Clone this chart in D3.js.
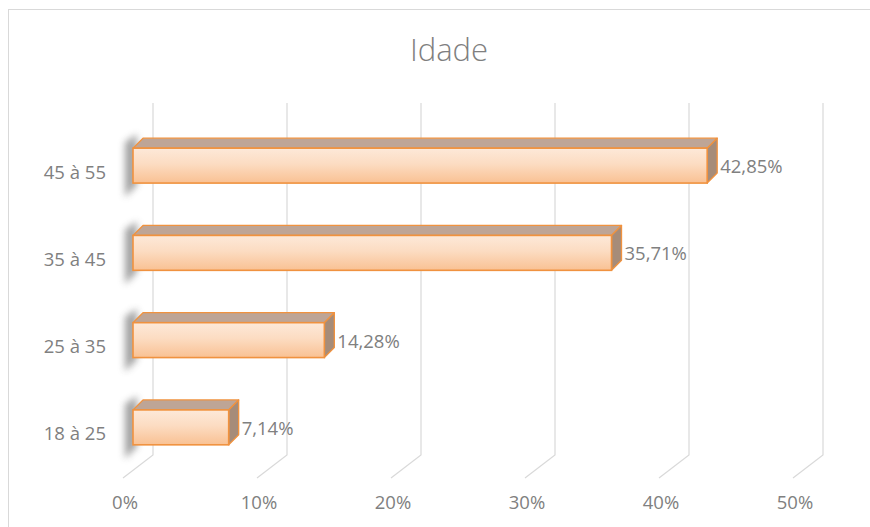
<!DOCTYPE html>
<html>
<head>
<meta charset="utf-8">
<script src="https://cdn.jsdelivr.net/npm/d3@7/dist/d3.min.js"></script>
<style>
html,body{margin:0;padding:0;background:#fff;}
svg{display:block;font-family:"Open Sans","Noto Sans",sans-serif;}
</style>
</head>
<body>
<svg id="chart" width="870" height="527"></svg>
<script>
const title = "Idade";
const categories = ["18 à 25", "25 à 35", "35 à 45", "45 à 55"];
const values = [7.14, 14.28, 35.71, 42.85];
const valueLabels = ["7,14%", "14,28%", "35,71%", "42,85%"];
const tickValues = [0, 10, 20, 30, 40, 50];
const tickLabels = ["0%", "10%", "20%", "30%", "40%", "50%"];

const svg = d3.select("#chart");

// chart area border
svg.append("rect").attr("x", 8.5).attr("y", 9.5).attr("width", 880).attr("height", 540)
  .attr("fill", "#fff").attr("stroke", "#d9d9d9").attr("stroke-width", 1);

const defs = svg.append("defs");
const grad = defs.append("linearGradient").attr("id", "barGrad")
  .attr("x1", 0).attr("y1", 0).attr("x2", 0).attr("y2", 1);
grad.append("stop").attr("offset", "0%").attr("stop-color", "#fde9d9");
grad.append("stop").attr("offset", "45%").attr("stop-color", "#fcdcc2");
grad.append("stop").attr("offset", "100%").attr("stop-color", "#f9c193");
const blur = defs.append("filter").attr("id", "shadowBlur")
  .attr("x", "-100%").attr("y", "-50%").attr("width", "300%").attr("height", "200%");
blur.append("feGaussianBlur").attr("stdDeviation", 3.5);

// scales
const x = d3.scaleLinear().domain([0, 50]).range([0, 670]);
const y = d3.scaleBand().domain(categories.slice().reverse())
  .range([122, 471]).paddingInner(0.6).paddingOuter(0.3);

const frontX0 = 133;   // bar front face origin
const wallX0 = 153;    // back wall origin
const floorX0 = 123;   // floor front edge origin
const wallTop = 103, wallBottom = 455, floorFront = 478;
const depth = 10;      // bar depth offset

// back wall gridlines + floor diagonals
const grid = svg.append("g");
tickValues.forEach(t => {
  const xb = wallX0 + x(t), xf = floorX0 + x(t);
  grid.append("path")
    .attr("d", `M${xb},${wallTop} L${xb},${wallBottom} L${xf},${floorFront}`)
    .attr("fill", "none").attr("stroke", "#d9d9d9").attr("stroke-width", 1.2);
});

// tick labels
svg.append("g").selectAll("text").data(tickValues).join("text")
  .attr("x", (d) => floorX0 + x(d) + 2)
  .attr("y", 509)
  .attr("text-anchor", "middle")
  .attr("font-size", 18.5)
  .attr("fill", "#808080")
  .text((d, i) => tickLabels[i]);

// category labels
svg.append("g").selectAll("text").data(categories).join("text")
  .attr("x", 106)
  .attr("y", d => y(d) + y.bandwidth() / 2 + 6.5)
  .attr("dy", "0.35em")
  .attr("text-anchor", "end")
  .attr("font-size", 18.5)
  .attr("fill", "#808080")
  .text(d => d);

// bars
const bars = svg.append("g").selectAll("g").data(categories).join("g");
bars.each(function(cat, i) {
  const g = d3.select(this);
  const top = y(cat), h = y.bandwidth();
  const x0 = frontX0, x1 = frontX0 + x(values[i]);
  // shadow at left
  g.append("path")
    .attr("d", `M${x0 - 8},${top - 6} L${x0 + 4},${top - 14} L${x0 + 4},${top + h + 2} L${x0 - 8},${top + h + 14} Z`)
    .attr("fill", "#666").attr("opacity", 0.6).attr("filter", "url(#shadowBlur)");
  // top face
  g.append("path")
    .attr("d", `M${x0},${top} L${x1},${top} L${x1 + depth},${top - depth} L${x0 + depth},${top - depth} Z`)
    .attr("fill", "#bea596").attr("stroke", "#f0923f").attr("stroke-width", 1.3).attr("stroke-linejoin", "round");
  // side face
  g.append("path")
    .attr("d", `M${x1},${top} L${x1 + depth},${top - depth} L${x1 + depth},${top + h - depth} L${x1},${top + h} Z`)
    .attr("fill", "#a68c79").attr("stroke", "#f0923f").attr("stroke-width", 1.3).attr("stroke-linejoin", "round");
  // front face
  g.append("rect")
    .attr("x", x0).attr("y", top).attr("width", x1 - x0).attr("height", h)
    .attr("fill", "url(#barGrad)").attr("stroke", "#f0923f").attr("stroke-width", 1.6);
  // value label
  g.append("text")
    .attr("x", x1 + depth + 3)
    .attr("y", top + h / 2 + 1)
    .attr("dy", "0.35em")
    .attr("font-size", 18.5)
    .attr("fill", "#808080")
    .text(valueLabels[i]);
});

// title
svg.append("text")
  .attr("x", 449).attr("y", 61)
  .attr("text-anchor", "middle")
  .attr("font-size", 31)
  .attr("font-weight", 300)
  .attr("fill", "#7f7f7f")
  .text(title);
</script>
</body>
</html>
